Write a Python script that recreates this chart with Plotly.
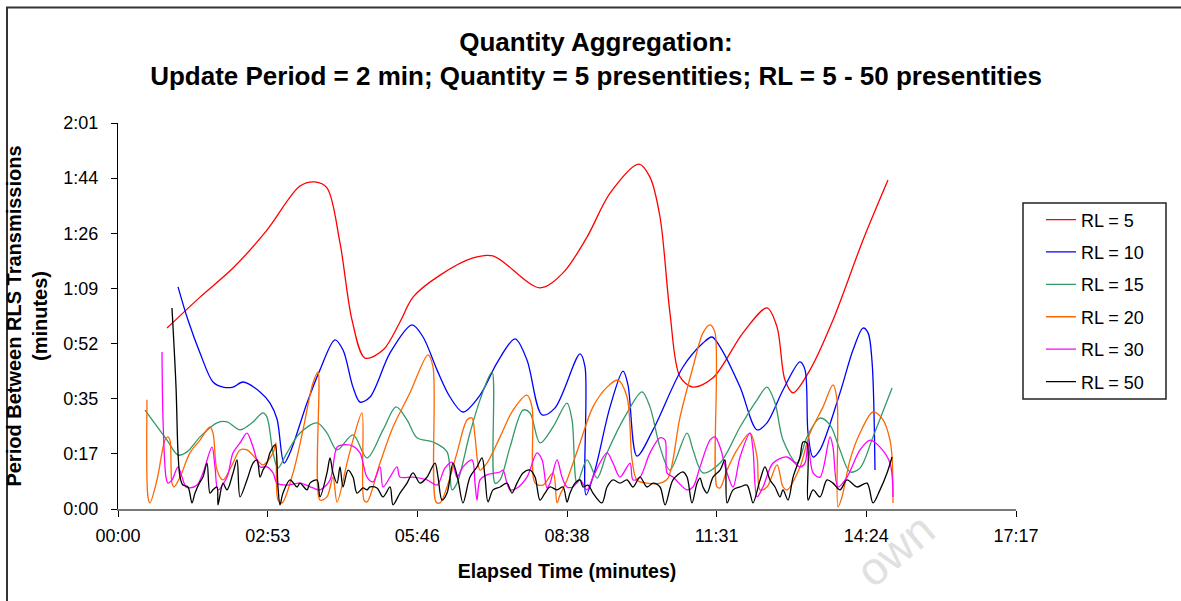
import plotly.graph_objects as go

# Elapsed time of each transmission (seconds) and period since the previous one (seconds)
rl5_t = [56.6, 94.7, 132.8, 172.0, 210.1, 227.5, 241.3, 256.3, 270.2, 285.2, 306.0, 325.6, 340.6, 371.8,
         409.9, 433.0, 487.2, 513.8, 541.5, 568.1, 601.5, 614.2, 625.8, 637.3, 648.9, 663.9, 687.0, 721.6,
         749.3, 760.9, 770.1, 779.4, 799.0, 825.5, 860.2, 889.0]
rl5_p = [56.7, 66.4, 75.5, 87.4, 101.2, 102.5, 100.6, 83.4, 59.2, 47.3, 49.8, 58.6, 66.4, 73.3,
         78.7, 79.3, 69.3, 74.0, 85.2, 99.0, 108.1, 104.0, 91.5, 61.4, 41.4, 38.2, 41.1, 55.2,
         63.0, 57.0, 40.4, 36.4, 43.6, 59.2, 84.3, 103.1]

rl10_t = [69.3, 80.8, 94.7, 109.7, 121.2, 132.8, 144.3, 164.0, 175.5, 183.6, 191.7, 198.6, 218.2, 233.2,
          250.5, 259.8, 271.3, 279.4, 291.0, 314.1, 339.5, 352.2, 368.3, 383.3, 398.3, 418.0, 437.6, 458.4,
          472.2, 489.6, 504.6, 533.4, 539.2, 540.4, 550.7, 568.1, 583.1, 588.8, 599.2, 617.7, 652.3, 675.4,
          685.8, 695.1, 718.2, 737.8, 749.3, 767.8, 787.4, 793.2, 796.7, 802.5, 810.5, 833.6, 848.6, 860.2,
          866.0, 870.6, 874.0]
rl10_p = [69.6, 59.2, 48.9, 39.8, 38.2, 38.2, 39.8, 36.7, 33.2, 28.2, 14.4, 17.6, 33.2, 43.6,
          53.0, 49.8, 38.2, 33.5, 35.1, 48.9, 57.7, 53.9, 43.6, 35.1, 30.4, 35.7, 45.8, 53.3,
          46.7, 29.5, 31.7, 48.6, 44.5, 4.4, 12.2, 32.0, 43.2, 38.9, 16.6, 24.8, 44.5, 52.0,
          53.9, 50.8, 38.2, 24.8, 27.0, 37.3, 46.1, 43.6, 23.8, 16.3, 18.5, 36.4, 49.8, 56.7,
          55.2, 46.1, 12.2]

rl15_t = [31.2, 56.6, 69.3, 79.7, 94.7, 114.3, 125.9, 140.9, 154.7, 167.4, 172.0, 179.0, 184.7, 195.1,
          210.1, 229.8, 241.3, 252.9, 271.3, 287.5, 306.0, 321.0, 333.7, 345.2, 363.7, 379.9, 385.6, 391.4,
          406.4, 418.0, 431.8, 435.3, 441.1, 452.6, 467.6, 475.7, 487.2, 502.3, 518.4, 524.2, 530.0, 541.5,
          553.1, 564.6, 587.7, 605.0, 614.2, 625.8, 637.3, 657.0, 663.9, 675.4, 695.1, 718.2, 737.8, 749.3,
          758.6, 767.8, 784.0, 795.5, 810.5, 822.1, 833.6, 845.2, 856.7, 871.7, 893.7]
rl15_p = [31.0, 21.6, 16.9, 17.9, 22.6, 27.0, 27.3, 24.8, 27.0, 30.1, 28.8, 17.6, 12.8, 17.6,
          23.8, 27.0, 23.8, 18.5, 23.2, 16.0, 24.8, 32.0, 27.9, 22.3, 21.0, 17.9, 6.0, 8.1,
          23.8, 34.2, 42.9, 8.1, 9.1, 19.4, 31.0, 30.1, 20.7, 25.7, 33.2, 27.9, 8.1, 15.4,
          9.7, 17.6, 30.1, 36.7, 32.0, 19.4, 12.2, 23.8, 18.5, 11.3, 14.4, 25.7, 34.2, 38.2,
          33.2, 21.6, 14.4, 22.6, 28.5, 26.3, 18.5, 11.6, 12.8, 22.6, 37.9]

rl20_t = [33.5, 34.6, 36.9, 45.0, 54.3, 57.7, 60.0, 62.3, 64.7, 71.6, 83.1, 94.7, 106.2, 109.7,
          114.3, 121.2, 132.8, 140.9, 148.9, 160.5, 167.4, 179.0, 182.4, 184.7, 189.4, 202.1, 213.6, 225.1,
          230.9, 233.2, 241.3, 248.2, 252.9, 264.4, 271.3, 281.7, 284.0, 287.5, 302.5, 317.5, 337.1, 357.9,
          363.7, 367.2, 371.8, 379.9, 391.4, 403.0, 408.7, 412.2, 418.0, 426.0, 441.1, 456.1, 472.2, 478.0,
          481.5, 490.7, 502.3, 506.9, 510.3, 518.4, 533.4, 548.4, 564.6, 577.3, 587.7, 593.5, 599.2, 610.8,
          625.8, 635.0, 648.9, 663.9, 675.4, 683.5, 689.3, 691.6, 695.1, 703.2, 714.7, 729.7, 737.8, 741.3,
          749.3, 760.9, 767.8, 772.4, 787.4, 799.0, 814.0, 825.5, 830.2, 831.3, 835.9, 845.2, 856.7, 871.7,
          883.3, 891.3, 893.7, 894.8]
rl20_p = [34.2, 3.8, 1.9, 9.1, 21.6, 22.6, 21.6, 8.1, 6.9, 10.0, 17.6, 21.6, 25.7, 23.8,
          12.2, 9.1, 14.4, 18.5, 18.5, 15.4, 13.8, 17.6, 20.7, 2.8, 1.9, 11.3, 24.8, 39.5,
          42.9, 2.8, 3.8, 10.0, 2.2, 14.4, 21.6, 30.1, 2.8, 2.2, 14.4, 25.7, 36.4, 48.3,
          44.5, 2.2, 1.9, 6.9, 17.6, 27.9, 28.5, 22.6, 12.2, 14.4, 22.6, 31.0, 35.7, 32.0,
          8.1, 7.5, 11.3, 1.9, 4.4, 9.1, 20.7, 32.0, 38.2, 40.4, 35.1, 15.4, 9.1, 8.1,
          8.1, 9.7, 28.8, 44.5, 55.2, 57.7, 55.2, 6.9, 6.6, 12.2, 18.5, 23.8, 16.3, 6.0,
          6.9, 13.8, 6.9, 6.0, 13.2, 23.8, 32.0, 38.9, 34.2, 0.6, 3.8, 15.4, 23.8, 30.4,
          27.9, 21.6, 16.3, 1.9]

rl30_t = [50.8, 52.0, 55.4, 57.7, 62.3, 69.3, 73.9, 78.5, 83.1, 91.2, 98.1, 108.5, 112.0, 115.5,
          125.9, 132.8, 140.9, 148.9, 155.9, 164.0, 172.0, 179.0, 183.6, 195.1, 210.1, 225.1, 233.2, 244.8,
          252.9, 259.8, 271.3, 279.4, 287.5, 294.4, 302.5, 306.0, 314.1, 322.1, 325.6, 340.6, 356.8, 368.3,
          377.5, 385.6, 391.4, 398.3, 408.7, 412.2, 414.5, 418.0, 426.0, 441.1, 444.5, 449.1, 452.6, 460.7,
          472.2, 483.8, 489.6, 495.3, 498.8, 506.9, 512.6, 518.4, 525.3, 533.4, 541.5, 548.4, 564.6, 571.5,
          579.6, 591.2, 594.6, 602.7, 614.2, 625.8, 631.6, 633.9, 640.8, 657.0, 663.9, 672.0, 683.5, 689.3,
          695.1, 703.2, 710.1, 718.2, 729.7, 733.2, 737.8, 744.7, 756.3, 772.4, 787.4, 793.2, 796.7, 802.5,
          810.5, 822.1, 825.5, 831.3, 841.7, 856.7, 868.3, 879.8, 891.3, 894.8]
rl30_p = [49.2, 27.9, 10.0, 8.1, 9.1, 13.2, 10.0, 6.9, 6.6, 7.5, 11.3, 19.4, 13.2, 6.0,
          10.0, 17.6, 20.7, 23.8, 19.4, 13.2, 13.2, 11.3, 8.1, 7.5, 8.1, 6.6, 6.0, 9.1,
          19.4, 20.1, 19.7, 17.6, 10.0, 8.5, 13.2, 6.9, 10.0, 13.2, 10.0, 10.0, 9.1, 7.5,
          12.8, 14.7, 10.0, 13.2, 15.4, 8.1, 2.8, 9.1, 10.7, 11.6, 12.2, 8.1, 6.0, 6.6,
          10.0, 17.6, 15.4, 6.6, 8.1, 15.4, 10.0, 6.9, 6.9, 9.1, 6.0, 10.0, 17.6, 14.4,
          10.0, 14.4, 9.1, 10.0, 17.6, 22.3, 21.6, 11.3, 10.0, 6.0, 6.9, 13.2, 21.6, 22.6,
          19.4, 11.3, 6.9, 16.3, 23.8, 18.5, 3.8, 6.9, 14.4, 16.3, 13.2, 14.4, 20.7, 11.3,
          10.0, 22.6, 19.4, 6.9, 10.0, 18.5, 21.6, 19.4, 14.4, 3.8]

rl50_t = [62.3, 67.0, 69.3, 71.6, 75.0, 80.8, 85.4, 88.9, 94.7, 98.1, 102.8, 106.2, 109.7, 114.3,
          115.5, 121.2, 125.9, 132.8, 137.4, 140.9, 148.9, 155.9, 160.5, 164.0, 167.4, 172.0, 175.5, 181.3,
          184.7, 187.0, 190.5, 198.6, 206.7, 210.1, 218.2, 221.7, 229.8, 233.2, 241.3, 244.8, 248.2, 252.9,
          256.3, 259.8, 265.6, 271.3, 276.0, 282.9, 287.5, 291.0, 299.0, 306.0, 314.1, 317.5, 325.6, 333.7,
          340.6, 348.7, 356.8, 366.0, 369.5, 374.1, 379.9, 386.8, 392.6, 398.3, 406.4, 414.5, 420.3, 423.7,
          427.2, 433.0, 441.1, 449.1, 454.9, 460.7, 467.6, 475.7, 481.5, 487.2, 493.0, 498.8, 506.9, 513.8,
          518.4, 521.9, 527.7, 533.4, 536.9, 542.7, 548.4, 558.8, 564.6, 571.5, 579.6, 587.7, 594.6, 602.7,
          610.8, 617.7, 625.8, 631.6, 640.8, 652.3, 657.0, 662.7, 668.5, 672.0, 675.4, 680.1, 687.0, 695.1,
          700.8, 703.2, 710.1, 718.2, 726.2, 729.7, 733.2, 741.3, 747.0, 752.8, 758.6, 764.3, 767.8, 773.6,
          779.4, 787.4, 790.9, 795.5, 796.7, 802.5, 810.5, 818.6, 825.5, 833.6, 841.7, 853.2, 864.8, 871.7,
          879.8, 887.9, 893.7]
rl50_p = [63.0, 38.2, 17.6, 10.0, 7.5, 6.9, 1.9, 5.0, 8.5, 10.0, 14.4, 5.0, 6.0, 6.9,
          1.3, 8.1, 6.0, 11.3, 15.4, 3.8, 9.1, 14.4, 15.4, 10.0, 12.2, 14.4, 17.6, 20.1,
          6.9, 1.3, 5.0, 9.1, 6.9, 8.1, 6.0, 8.1, 9.1, 3.8, 11.3, 16.0, 11.3, 8.1,
          13.2, 6.9, 12.2, 10.0, 5.0, 6.6, 6.0, 6.9, 6.6, 3.8, 6.9, 1.3, 5.0, 8.1,
          11.3, 8.1, 10.0, 14.4, 10.0, 2.8, 5.0, 14.4, 9.1, 1.9, 10.0, 13.2, 16.0, 10.0,
          2.2, 6.0, 6.9, 8.1, 5.0, 8.1, 11.3, 12.2, 10.0, 2.8, 5.0, 6.9, 6.0, 6.9,
          2.2, 5.0, 8.1, 9.1, 6.9, 7.5, 5.0, 1.9, 6.9, 9.1, 8.1, 9.1, 6.9, 10.0,
          6.9, 8.1, 6.9, 1.3, 9.1, 11.6, 10.0, 1.9, 8.1, 9.7, 6.9, 5.0, 10.0, 12.2,
          15.4, 1.9, 6.0, 6.9, 7.5, 5.0, 1.9, 9.1, 13.2, 9.1, 6.9, 3.8, 6.0, 2.8,
          10.0, 16.3, 21.0, 20.7, 2.8, 6.0, 3.8, 9.1, 8.1, 6.0, 9.1, 6.9, 8.1, 1.9,
          6.0, 11.3, 16.3]

series_names = ["RL = 5", "RL = 10", "RL = 15", "RL = 20", "RL = 30", "RL = 50"]
series_colors = ["#FF0000", "#0000FF", "#339966", "#FF6600", "#FF00FF", "#000000"]

x_tick_labels = ["00:00", "02:53", "05:46", "08:38", "11:31", "14:24", "17:17"]
y_tick_labels = ["0:00", "0:17", "0:35", "0:52", "1:09", "1:26", "1:44", "2:01"]

X_STEP = 172.8   # axis major unit, seconds
Y_STEP = 17.28   # axis major unit, seconds

FONT = "Liberation Sans, Arial, sans-serif"

fig = go.Figure()
series = [(rl5_t, rl5_p), (rl10_t, rl10_p), (rl15_t, rl15_p),
          (rl20_t, rl20_p), (rl30_t, rl30_p), (rl50_t, rl50_p)]
for (t, p), name, color in zip(series, series_names, series_colors):
    fig.add_trace(go.Scatter(
        x=t, y=p, name=name, mode="lines", legendgroup=name,
        line=dict(color=color, width=1.3, shape="spline", smoothing=0.9),
    ))

fig.update_layout(
    width=1181, height=601,
    margin=dict(l=118, r=165, t=123, b=92, autoexpand=False),
    paper_bgcolor="white", plot_bgcolor="white",
    font=dict(family=FONT, color="black", size=18),
    title=dict(
        text="<b>Quantity Aggregation:</b><br><b>Update Period = 2 min; Quantity = 5 presentities; RL = 5 - 50 presentities</b>",
        font=dict(family=FONT, size=26, color="black"),
        x=596 / 1181, xanchor="center", xref="container",
        y=1 - 51 / 601, yanchor="middle", yref="container",
    ),
    legend=dict(
        x=1.0278, xanchor="left", y=0.797, yanchor="top",
        borderwidth=0, bgcolor="rgba(0,0,0,0)",
        font=dict(family=FONT, size=18, color="black"),
        tracegroupgap=6, itemwidth=30,
    ),
    showlegend=True,
)

fig.update_xaxes(
    range=[0, 6 * X_STEP],
    tickvals=[i * X_STEP for i in range(len(x_tick_labels))],
    ticktext=x_tick_labels,
    ticks="outside", ticklen=6, tickcolor="black", tickwidth=1,
    ticklabelstandoff=3,
    showline=True, linecolor="#7a7a7a", linewidth=2,
    showgrid=False, zeroline=False, automargin=False,
    tickfont=dict(family=FONT, size=18, color="black"),
    title=dict(text="<b>Elapsed Time (minutes)</b>", font=dict(family=FONT, size=19.5, color="black"), standoff=20),
)
fig.update_yaxes(
    range=[0, 7 * Y_STEP],
    tickvals=[i * Y_STEP for i in range(len(y_tick_labels))],
    ticktext=y_tick_labels,
    ticks="outside", ticklen=6, tickcolor="black", tickwidth=1,
    ticklabelstandoff=9,
    showline=True, linecolor="black", linewidth=1,
    showgrid=False, zeroline=False, automargin=False,
    tickfont=dict(family=FONT, size=18, color="black"),
    title=dict(text="<b>Period Between RLS Transmissions</b><br><b>(minutes)</b>",
               font=dict(family=FONT, size=20, color="black"), standoff=10),
)

# chart-area frame
fig.add_shape(type="rect", xref="paper", yref="paper",
              x0=-0.1236, x1=1.35, y0=-0.3, y1=1.2995,
              line=dict(color="#333333", width=2), fillcolor="rgba(0,0,0,0)", layer="below")

# legend frame
fig.add_shape(type="rect", xref="paper", yref="paper",
              x0=(1023 - 118) / 898, x1=(1166 - 118) / 898,
              y0=(509 - 399) / 386, y1=(509 - 203) / 386,
              line=dict(color="#222222", width=1.5), fillcolor="white", layer="below")

# faint watermark
fig.add_annotation(text="own", xref="paper", yref="paper", x=0.8653, y=-0.1062,
                   xanchor="center", yanchor="middle",
                   showarrow=False, textangle=-40,
                   font=dict(family=FONT, size=46, color="#e0e0e0"))

fig.write_html("out.html")
